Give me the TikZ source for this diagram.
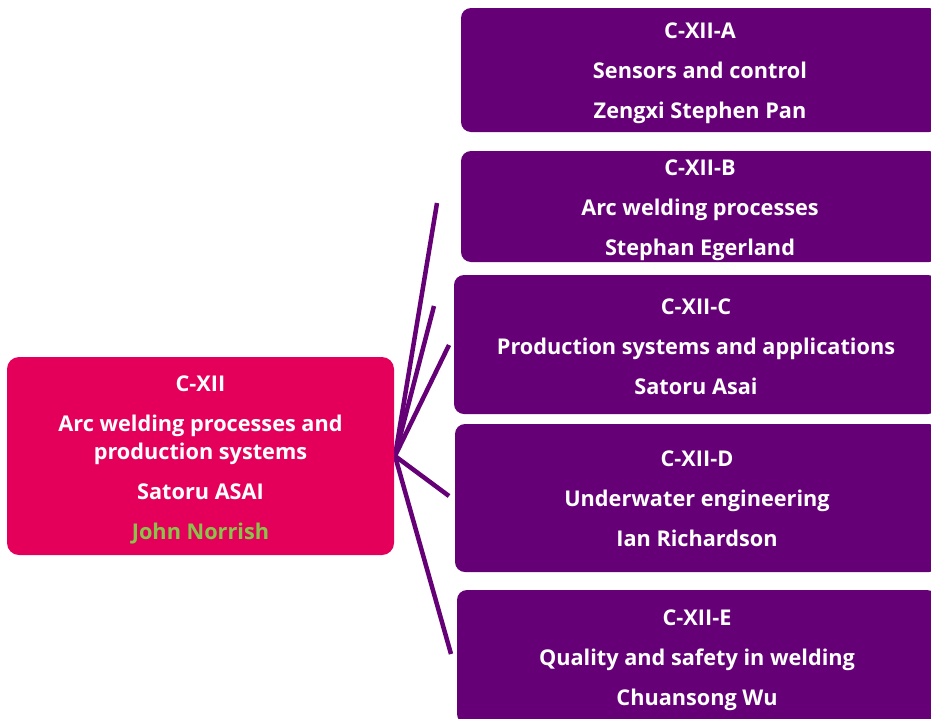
\documentclass[tikz,border=0pt]{standalone}
\usepackage{fontspec}
\setmainfont{Open Sans}
\definecolor{hubpink}{HTML}{E4005A}
\definecolor{subpurple}{HTML}{660077}
\definecolor{namegreen}{HTML}{8BC34A}
\newcommand{\mkboxtext}[2]{\raisebox{#1}[0pt][0pt]{\begin{tabular}{@{}c@{}}#2\end{tabular}}}
\tikzset{
  mainbox/.style={fill=hubpink, rounded corners=12pt, text=white,
    minimum width=387pt, minimum height=198pt, inner sep=0pt,
    font=\fontsize{21.7}{40}\selectfont\bfseries},
  subbox/.style={fill=subpurple, rounded corners=10pt, text=white,
    inner sep=0pt, font=\fontsize{21.7}{40}\selectfont\bfseries},
  link/.style={draw=subpurple, line width=4.5pt}
}
\begin{document}
\begin{tikzpicture}[x=1pt,y=-1pt]
\useasboundingbox (0,0) rectangle (931,718);
\clip (0,0) rectangle (931,718);
\fill[white] (0,0) rectangle (931,718);
% connectors first
\coordinate (hub) at (395,456);
\coordinate (ea) at (437,203);
\coordinate (eb) at (434,306);
\coordinate (ec) at (449,345);
\coordinate (ed) at (449,496);
\coordinate (ee) at (451,654);
\draw[link] (hub) -- (ea);
\draw[link] (hub) -- (eb);
\draw[link] (hub) -- (ec);
\draw[link] (hub) -- (ed);
\draw[link] (hub) -- (ee);
% main node
\node[mainbox] (main) at (200.5,456) {\mkboxtext{-6.4pt}{C-XII\\Arc welding processes and\\[-12pt]production systems\\Satoru ASAI\\\textcolor{namegreen}{John Norrish}}};
% sub nodes
\node[subbox, minimum width=478pt, minimum height=124pt] (a) at (700,70) {\mkboxtext{-5.4pt}{C-XII-A\\Sensors and control\\Zengxi Stephen Pan}};
\node[subbox, minimum width=478pt, minimum height=111pt] (b) at (700,206.5) {\mkboxtext{-6.4pt}{C-XII-B\\Arc welding processes\\Stephan Egerland}};
\node[subbox, minimum width=484pt, minimum height=139pt] (c) at (696,344.5) {\mkboxtext{-7.4pt}{C-XII-C\\Production systems and applications\\Satoru Asai}};
\node[subbox, minimum width=484pt, minimum height=148pt] (d) at (697,498) {\mkboxtext{-5.4pt}{C-XII-D\\Underwater engineering\\Ian Richardson}};
\node[subbox, minimum width=480pt, minimum height=134pt] (e) at (697,657) {\mkboxtext{-5.4pt}{C-XII-E\\Quality and safety in welding\\Chuansong Wu}};
\end{tikzpicture}
\end{document}
